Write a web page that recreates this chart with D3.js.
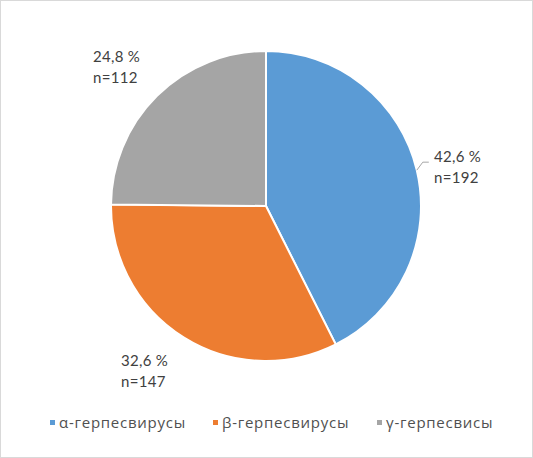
<!DOCTYPE html>
<html>
<head>
    <meta charset="utf-8">
    <script src="https://cdn.jsdelivr.net/npm/d3@7"></script>
    <style>
        body { margin: 0; background: #fff; }
        text { font-family: "Lato", sans-serif; fill: #404040; }
        .leg text { font-family: "Open Sans", sans-serif; fill: #505050; letter-spacing: 0.75px; }
    </style>
</head>
<body>
<svg width="533" height="458"></svg>
<script>
    const categories = ["α-герпесвирусы", "β-герпесвирусы", "γ-герпесвисы"];
    const counts = [192, 147, 112];
    const percentLabels = ["42,6 %", "32,6 %", "24,8 %"];
    const colors = ["#5B9BD5", "#ED7D31", "#A5A5A5"];

    const svg = d3.select("svg");

    svg.append("rect")
        .attr("x", 0.5).attr("y", 0.5)
        .attr("width", 532).attr("height", 457)
        .attr("fill", "#fff")
        .attr("stroke", "#d9d9d9");

    const cx = 266, cy = 206, r = 155;

    const pie = d3.pie().sort(null).value(d => d);
    const arcs = pie(counts);
    const arc = d3.arc().innerRadius(0).outerRadius(r);

    const g = svg.append("g").attr("transform", `translate(${cx},${cy})`);

    g.selectAll("path")
        .data(arcs)
        .enter()
        .append("path")
        .attr("d", arc)
        .attr("fill", (d, i) => colors[i])
        .attr("stroke", "#fff")
        .attr("stroke-width", 2);

    // label positions (absolute, relative to page)
    const labelPos = [[434, 162], [121, 366], [93, 62]];

    svg.selectAll(".lbl")
        .data(arcs)
        .enter()
        .append("text")
        .attr("class", "lbl")
        .attr("x", (d, i) => labelPos[i][0])
        .attr("y", (d, i) => labelPos[i][1])
        .style("font-size", "15px")
        .style("letter-spacing", "0.3px")
        .each(function (d, i) {
            const t = d3.select(this);
            t.append("tspan").text(percentLabels[i]);
            t.append("tspan").attr("x", labelPos[i][0]).attr("dy", 21).text("n=" + counts[i]);
        });

    // leader line for the first label
    const a0 = (arcs[0].startAngle + arcs[0].endAngle) / 2;
    const edge = [cx + Math.sin(a0) * r, cy - Math.cos(a0) * r];
    svg.append("polyline")
        .attr("points", `${edge[0]},${edge[1]} ${edge[0] + 6},${edge[1] - 8} ${edge[0] + 12},${edge[1] - 8}`)
        .attr("fill", "none")
        .attr("stroke", "#a6a6a6")
        .attr("stroke-width", 1);

    // legend
    const legendX = [50, 213, 377];
    const legend = svg.selectAll(".leg")
        .data(categories)
        .enter()
        .append("g")
        .attr("class", "leg")
        .attr("transform", (d, i) => `translate(${legendX[i]},428)`);

    legend.append("rect")
        .attr("x", 0).attr("y", -8)
        .attr("width", 5).attr("height", 5)
        .attr("fill", (d, i) => colors[i]);

    legend.append("text")
        .attr("x", 9).attr("y", 0)
        .style("font-size", "15px")
        .text(d => d);
</script>
</body>
</html>
